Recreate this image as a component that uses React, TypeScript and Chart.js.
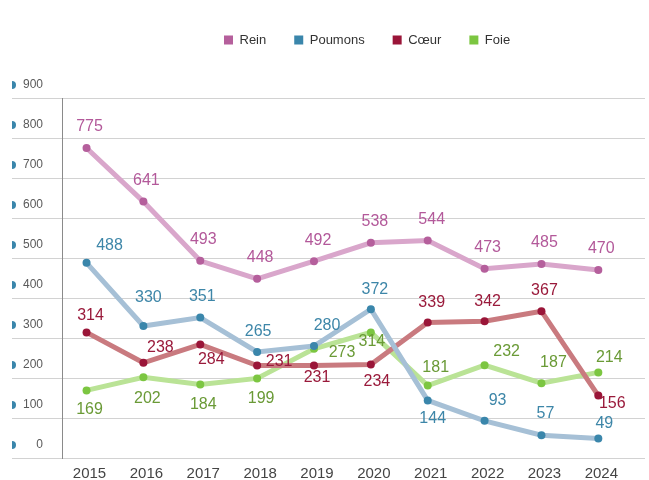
import React, { useEffect, useRef } from "react";
import { Chart, registerables } from "chart.js";

Chart.register(...registerables);

// ---------- data ----------
const YEARS = [2015, 2016, 2017, 2018, 2019, 2020, 2021, 2022, 2023, 2024];
const SERIES_NAMES = ["Rein", "Poumons", "Cœur", "Foie"];
const REIN = [775, 641, 493, 448, 492, 538, 544, 473, 485, 470];
const POUMONS = [488, 330, 351, 265, 280, 372, 144, 93, 57, 49];
const COEUR = [314, 238, 284, 231, 231, 234, 339, 342, 367, 156];
const FOIE = [169, 202, 184, 199, 273, 314, 181, 232, 187, 214];
const Y_MIN = 0;
const Y_MAX = 900;
const Y_STEP = 100;

// ---------- label placement (px offsets from the point) ----------
const REIN_DX = [3, 3, 3, 3, 4, 4, 4, 3, 3, 3];
const REIN_DY = [-21, -21, -21, -21, -21, -21, -21, -21, -21, -21];
const POUMONS_DX = [23, 5, 2, 1, 13, 4, 5, 13, 4, 6];
const POUMONS_DY = [-17, -28, -21, -20, -20, -20, 18, -20, -22, -15];
const COEUR_DX = [4, 17, 11, 22, 3, 6, 4, 3, 3, 14];
const COEUR_DY = [-17, -15, 15, -4, 12, 17, -20, -20, -21, 8];
const FOIE_DX = [3, 4, 3, 4, 28, 1, 8, 22, 12, 11];
const FOIE_DY = [19, 21, 20, 20, 4, 9, -18, -14, -21, -15];

// ---------- styles ----------
const POINT_COLORS = ["#b55f9c", "#3a86ab", "#9a1538", "#7cc641"];
const LINE_COLORS = ["#d9a6cb", "#a6c0d6", "#c97a7f", "#bae396"];
const LABEL_COLORS = ["#b3599a", "#3d86a8", "#9a1a3b", "#6a9a36"];
const FONT = '"Liberation Sans", Arial, Helvetica, sans-serif';

const VALUES = [REIN, POUMONS, COEUR, FOIE];
const DXS = [REIN_DX, POUMONS_DX, COEUR_DX, FOIE_DX];
const DYS = [REIN_DY, POUMONS_DY, COEUR_DY, FOIE_DY];

const legendAdjust = {
  id: "legendAdjust",
  beforeUpdate(chart: any) {
    const lg = chart.legend;
    if (lg && !lg.__patched) {
      const orig = lg.fit;
      lg.fit = function () {
        orig.call(this);
        this.height = 92.5;
      };
      lg.__patched = true;
    }
  },
  afterLayout(chart: any) {
    const lg = chart.legend;
    if (lg) {
      lg.left = 224 - 28;
    }
  },
};

const yBullets = {
  id: "yBullets",
  afterDraw(chart: any) {
    const ctx = chart.ctx;
    const s = chart.scales.y;
    ctx.save();
    ctx.fillStyle = "#3a86ab";
    s.ticks.forEach((t: any) => {
      const y = s.getPixelForValue(t.value) - 13;
      ctx.beginPath();
      ctx.arc(12, y, 4, -Math.PI / 2, Math.PI / 2);
      ctx.closePath();
      ctx.fill();
    });
    ctx.restore();
  },
};

const pointLabels = {
  id: "pointLabels",
  afterDatasetsDraw(chart: any) {
    const ctx = chart.ctx;
    ctx.save();
    ctx.font = `16px ${FONT}`;
    ctx.textAlign = "center";
    ctx.textBaseline = "middle";
    chart.data.datasets.forEach((ds: any, di: number) => {
      const meta = chart.getDatasetMeta(di);
      ctx.fillStyle = LABEL_COLORS[di];
      meta.data.forEach((el: any, i: number) => {
        ctx.fillText(String(VALUES[di][i]), el.x + DXS[di][i], el.y + DYS[di][i]);
      });
    });
    ctx.restore();
  },
};

export default function App() {
  const ref = useRef<HTMLCanvasElement | null>(null);

  useEffect(() => {
    document.body.style.margin = "0";
    const canvas = ref.current;
    if (!canvas) return;
    const datasets = VALUES.map((vals, di) => ({
      label: SERIES_NAMES[di],
      data: YEARS.map((yr, i) => ({ x: yr, y: vals[i] })),
      borderColor: LINE_COLORS[di],
      backgroundColor: POINT_COLORS[di],
      borderWidth: 5,
      tension: 0,
      pointRadius: 4,
      pointBorderWidth: 0,
      pointBackgroundColor: POINT_COLORS[di],
      pointBorderColor: POINT_COLORS[di],
      fill: false,
    }));
    const chart = new Chart(canvas, {
      type: "line",
      data: { datasets },
      plugins: [legendAdjust, yBullets, pointLabels],
      options: {
        responsive: false,
        animation: false,
        devicePixelRatio: 1,
        layout: { padding: { top: 5.5, left: 0, right: 0, bottom: 0 } },
        plugins: {
          tooltip: { enabled: false },
          legend: {
            position: "top",
            align: "start",
            labels: {
              boxWidth: 9,
              boxHeight: 9,
              padding: 28,
              color: "#333",
              font: { size: 13, family: FONT },
              generateLabels: (c: any) =>
                c.data.datasets.map((ds: any, i: number) => ({
                  text: ds.label,
                  fillStyle: POINT_COLORS[i],
                  strokeStyle: POINT_COLORS[i],
                  lineWidth: 0,
                  hidden: false,
                  datasetIndex: i,
                  fontColor: "#333",
                })),
            },
          },
        },
        scales: {
          x: {
            type: "linear",
            min: 2014.5686,
            max: 2024.821,
            afterBuildTicks: (s: any) => {
              s.ticks = YEARS.map((v) => ({ value: v }));
            },
            afterFit: (s: any) => {
              s.height = 22;
            },
            grid: { display: false, drawTicks: false },
            border: { display: false },
            ticks: {
              callback: (v: any) => String(v),
              font: { size: 15, family: FONT },
              color: "#444",
              padding: 7,
              labelOffset: 3,
              maxRotation: 0,
              autoSkip: false,
            },
          },
          y: {
            min: Y_MIN,
            max: Y_MAX,
            afterFit: (s: any) => {
              s.width = 62;
            },
            grid: {
              color: "#d2d2d2",
              drawTicks: true,
              tickLength: 50,
              tickColor: "#d2d2d2",
            },
            border: { display: true, color: "#8a8a8a", width: 1 },
            ticks: {
              stepSize: Y_STEP,
              font: { size: 12, family: FONT },
              color: "#5a5a5a",
              padding: -31,
              labelOffset: -13,
              crossAlign: "near",
            },
          },
        },
      },
    } as any);
    return () => chart.destroy();
  }, []);

  return (
    <div style={{ width: 649, height: 480 }}>
      <canvas ref={ref} width={649} height={480} style={{ display: "block" }} />
    </div>
  );
}
